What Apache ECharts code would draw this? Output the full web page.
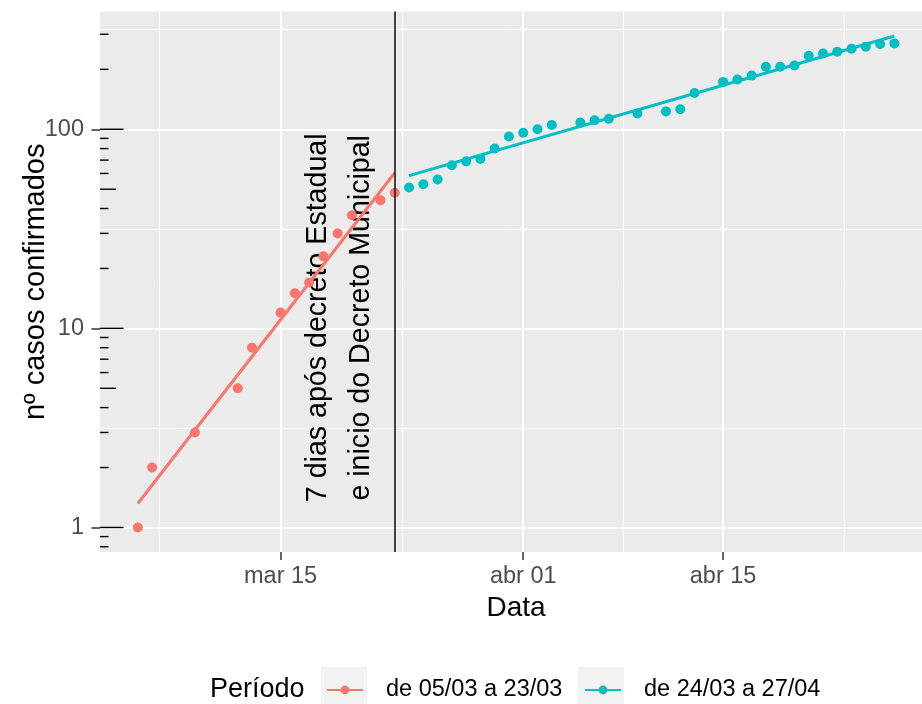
<!DOCTYPE html>
<html><head><meta charset="utf-8">
<script src="https://cdn.jsdelivr.net/npm/echarts@6/dist/echarts.min.js"></script>
<style>html,body{margin:0;padding:0;background:#fff}#c{width:922px;height:704px}</style>
</head><body><div id="c"></div>
<script>
// ---- data ----
const redDates = ['2020-03-05','2020-03-06','2020-03-09','2020-03-12','2020-03-13','2020-03-15','2020-03-16','2020-03-17','2020-03-18','2020-03-19','2020-03-20','2020-03-22','2020-03-23'];
const redValues = [1,2,3,5,8,12,15,17,23,30,37,44,48];
const blueDates = ['2020-03-24','2020-03-25','2020-03-26','2020-03-27','2020-03-28','2020-03-29','2020-03-30','2020-03-31','2020-04-01','2020-04-02','2020-04-03','2020-04-05','2020-04-06','2020-04-07','2020-04-09','2020-04-11','2020-04-12','2020-04-13','2020-04-15','2020-04-16','2020-04-17','2020-04-18','2020-04-19','2020-04-20','2020-04-21','2020-04-22','2020-04-23','2020-04-24','2020-04-25','2020-04-26','2020-04-27'];
const blueValues = [51,53,56,66,69,71,80,92,96,100,105,108,111,113,120,123,126,152,173,178,186,206,206,209,234,240,245,254,260,268,270];
const redFitDates = ['2020-03-05','2020-03-23'];
const redFitValues = [1.32,60.5];
const blueFitDates = ['2020-03-24','2020-04-27'];
const blueFitValues = [58.5,294];
const seriesNames = ['de 05/03 a 23/03','de 24/03 a 27/04'];
const xTickDates = ['2020-03-15','2020-04-01','2020-04-15'];
const xTickLabels = ['mar 15','abr 01','abr 15'];
const xMinorDates = ['2020-03-06T12:00','2020-03-23T12:00','2020-04-08T00:00','2020-04-23T12:00'];
const yTickValues = [1,10,100];
const yTickLabels = ['1','10','100'];
const yMinorValues = [3.1623,31.623,316.23];
const logTickValues = [0.8,0.9,1,2,3,4,5,6,7,8,9,10,20,30,40,50,60,70,80,90,100,200,300];
const vlineDate = '2020-03-23';
const annotationDate = '2020-03-19T03:00';
const annotationValue = 11.3;
const annotationText = '7 dias após decreto Estadual\ne inicio do Decreto Municipal';

// ---- helpers ----
const DAY = 86400000;
function ts(s){
  const parts = s.split('T');
  const d = parts[0].split('-').map(Number);
  const t = (parts[1] || '00:00').split(':').map(Number);
  return Date.UTC(d[0], d[1]-1, d[2], t[0], t[1]);
}
function zip(a, b){ return a.map((v, i) => [ts(v), b[i]]); }
const xMin = ts('2020-03-05') - 2.65*DAY;
const xMax = ts('2020-04-27') + 2.65*DAY;
const yMin = 0.753, yMax = 390;
const xTickTs = xTickDates.map(ts);
const FONT = '"Liberation Sans", Arial, sans-serif';
const RED = '#F8766D', BLUE = '#00BFC4';

const chart = echarts.init(document.getElementById('c'), null, {renderer:'canvas'});
chart.setOption({
  animation: false,
  backgroundColor: '#ffffff',
  textStyle: {fontFamily: FONT},
  grid: {left:100, right:-10.2, top:11.6, bottom:152, show:true, backgroundColor:'#EBEBEB', borderWidth:0, outerBoundsMode:'none'},
  title: {text:'Período', left:210, top:676, padding:0, textStyle:{fontSize:27, fontWeight:'normal', color:'#000', fontFamily:FONT}},
  legend: {
    data: seriesNames, left:326, top:678, padding:0, itemWidth:36, itemHeight:11, itemGap:21.6,
    selectedMode:false,
    textStyle:{fontSize:23.5, color:'#000', fontFamily:FONT, padding:[0,0,0,18]}
  },
  graphic: [
    {type:'rect', left:321, top:667, z:0, shape:{width:46, height:46}, style:{fill:'#F2F2F2'}},
    {type:'rect', left:578, top:667, z:0, shape:{width:46, height:46}, style:{fill:'#F2F2F2'}}
  ],
  xAxis: {
    type:'value', min:xMin, max:xMax, scale:true,
    axisLine:{show:false},
    axisTick:{show:true, customValues:xTickTs, length:8, lineStyle:{color:'#333', width:1.5}},
    axisLabel:{customValues:xTickTs, color:'#4D4D4D', fontSize:23.5, margin:13, fontFamily:FONT,
      formatter: v => { const i = xTickTs.indexOf(v); return i >= 0 ? xTickLabels[i] : ''; }},
    splitLine:{show:true, lineStyle:{color:'#fff', width:2}},
    name:'Data', nameLocation:'middle', nameGap:42, nameMoveOverlap:false,
    nameTextStyle:{fontSize:28, color:'#000', fontFamily:FONT}
  },
  yAxis: {
    type:'log', logBase:10, min:yMin, max:yMax,
    axisLine:{show:false},
    axisTick:{show:true, customValues:yTickValues, length:8.6, lineStyle:{color:'#333', width:1.5}},
    axisLabel:{customValues:yTickValues, color:'#4D4D4D', fontSize:23.5, margin:16, fontFamily:FONT,
      formatter: v => { const i = yTickValues.indexOf(Math.round(v)); return i >= 0 ? yTickLabels[i] : ''; }},
    splitLine:{show:true, lineStyle:{color:'#fff', width:2}},
    name:'nº casos confirmados', nameLocation:'middle', nameGap:50, nameMoveOverlap:false,
    nameTextStyle:{fontSize:29, color:'#000', fontFamily:FONT}
  },
  series: [
    {
      name: seriesNames[0], type:'line', data: zip(redFitDates, redFitValues),
      showSymbol:false, symbol:'circle', z:3,
      lineStyle:{color:RED, width:3}, itemStyle:{color:RED}
    },
    {
      name: seriesNames[1], type:'line', data: zip(blueFitDates, blueFitValues),
      showSymbol:false, symbol:'circle', z:3,
      lineStyle:{color:BLUE, width:3}, itemStyle:{color:BLUE}
    },
    {
      name: seriesNames[0], type:'scatter', data: zip(redDates, redValues),
      symbol:'circle', symbolSize:10, z:3, itemStyle:{color:RED, opacity:1},
      markLine:{
        silent:true, symbol:['none','none'], z:4, label:{show:false},
        lineStyle:{color:'#1a1a1a', width:1.6, type:'solid'},
        data:[{xAxis: ts(vlineDate)}]
      }
    },
    {
      name: seriesNames[1], type:'scatter', data: zip(blueDates, blueValues),
      symbol:'circle', symbolSize:10, z:3, itemStyle:{color:BLUE, opacity:1},
      markLine:{
        silent:true, symbol:['none','none'], z:1, label:{show:false},
        lineStyle:{color:'#ffffff', width:1, type:'solid'},
        data: yMinorValues.map(v => ({yAxis:v})).concat(xMinorDates.map(d => ({xAxis: ts(d)})))
      }
    },
    {
      name:'logticks', type:'custom', silent:true, z:3,
      data: logTickValues.map(v => [xMin, v]),
      encode:{x:0, y:1},
      renderItem: (params, api) => {
        const v = api.value(1);
        const p = api.coord([api.value(0), v]);
        const lead = Math.round(v / Math.pow(10, Math.floor(Math.log10(v) + 1e-9)));
        const len = lead === 1 ? 23.6 : (lead === 5 ? 15.8 : 8.5);
        return {type:'line', shape:{x1:p[0], y1:p[1], x2:p[0]+len, y2:p[1]}, style:{stroke:'#000', lineWidth:1.4}};
      }
    },
    {
      name:'annotation', type:'custom', silent:true, z:2,
      data: [[ts(annotationDate), annotationValue]],
      encode:{x:0, y:1},
      renderItem: (params, api) => {
        const p = api.coord([api.value(0), api.value(1)]);
        return {type:'text', x:p[0], y:p[1], rotation:Math.PI/2,
          style:{text:annotationText, fontSize:28.6, fontFamily:FONT, fill:'#000', align:'center', verticalAlign:'middle', lineHeight:43}};
      }
    }
  ]
});
</script>
</body></html>
